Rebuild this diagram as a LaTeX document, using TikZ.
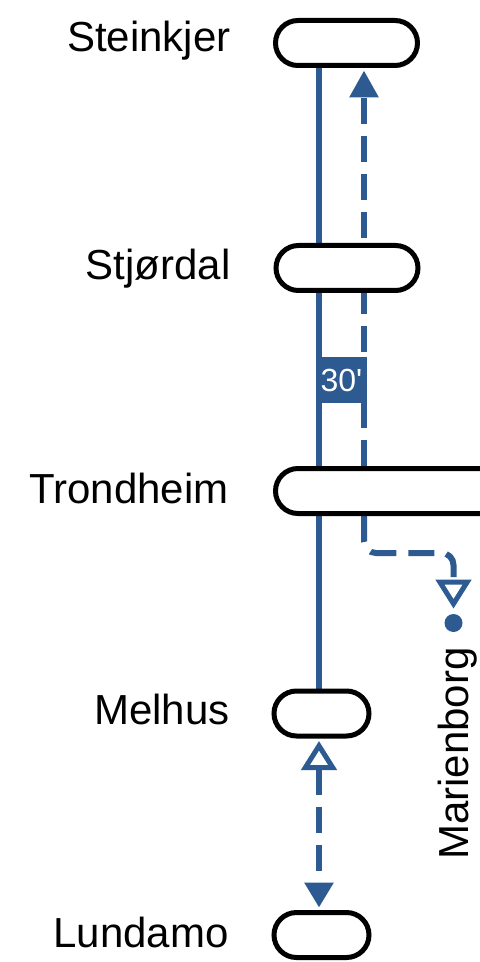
\documentclass[tikz,border=0pt]{standalone}
\usepackage{fontspec}
\usepackage{tikz}
\newfontfamily\mapfont{Liberation Sans}
\usetikzlibrary{arrows.meta}
\usetikzlibrary{shapes.misc}
\usetikzlibrary{backgrounds}
\definecolor{lineblue}{RGB}{46, 90, 146}
\tikzset{station/.style = {draw, line width = 2.5pt, fill = white, rounded rectangle, inner sep = 0, minimum height = 22.5pt, minimum width = 71pt}}
\tikzset{place/.style = {anchor = base east, inner sep = 0, font = \mapfont\fontsize{21}{25}\selectfont}}
\tikzset{route/.style = {line width = 3pt, lineblue}}
\tikzset{dashroute/.style = {route, dash pattern = on 13pt off 6pt}}
\tikzset{hollow/.tip = {Triangle[fill = white, length = 14.5pt, width = 17.5pt, line width' = 2.5pt]}}

\begin{document}
\begin{tikzpicture}[x = 0.5pt, y = -0.5pt]
      \useasboundingbox (0, 0) rectangle (480, 962);
      \clip (0, 0) rectangle (480, 962);

      \node [station] (steinkjer) at (346.5, 43) {};
      \node [station] (stjordal) at (347, 268) {};
      \node [station, minimum width = 160pt] (trondheim) at (435.5, 491) {}; % runs off the page
      \node [station, minimum width = 47.5pt] (melhus) at (321.5, 713.5) {};
      \node [station, minimum width = 47.5pt] (lundamo) at (321.5, 935) {};

      \node [place] (lsteinkjer) at (231, 52) {Steinkjer};
      \node [place] (lstjordal) at (231, 279) {Stjørdal};
      \node [place] (ltrondheim) at (229, 503) {Trondheim};
      \node [place] (lmelhus) at (230, 724) {Melhus};
      \node [place] (llundamo) at (229, 947) {Lundamo};

      \node [circle, fill = lineblue, inner sep = 0, minimum size = 9pt] (mdot) at (453.5, 623) {};
      \node [place, rotate = 90] (marienborg) at (468, 647) {Marienborg};

      \begin{scope}[on background layer]
        \draw [route] (319, 0 |- steinkjer.south) -- (319, 0 |- melhus.north);
        \draw [dashroute, -{Triangle[length = 13.5pt, width = 14pt]}, shorten > = 1.25pt] (364, 0 |- trondheim.north) -- (364, 0 |- steinkjer.south);
        \draw [dashroute, rounded corners = 6pt, -hollow, shorten > = 2.5pt] (364, 0 |- trondheim.south) -- (364, 553) -- (453.5, 553) -- (mdot.north);
        \draw [dashroute, hollow-{Triangle[length = 12.5pt, width = 14pt]}, shorten < = 1.25pt, shorten > = 1.25pt] (319, 0 |- melhus.south) -- (319, 0 |- lundamo.north);
      \end{scope}

      \node [fill = lineblue, text = white, inner sep = 0, minimum width = 25.5pt, minimum height = 23pt, font = \mapfont\fontsize{16}{18}\selectfont] (headway) at (341.5, 380) {30'};
    \end{tikzpicture}
\end{document}
